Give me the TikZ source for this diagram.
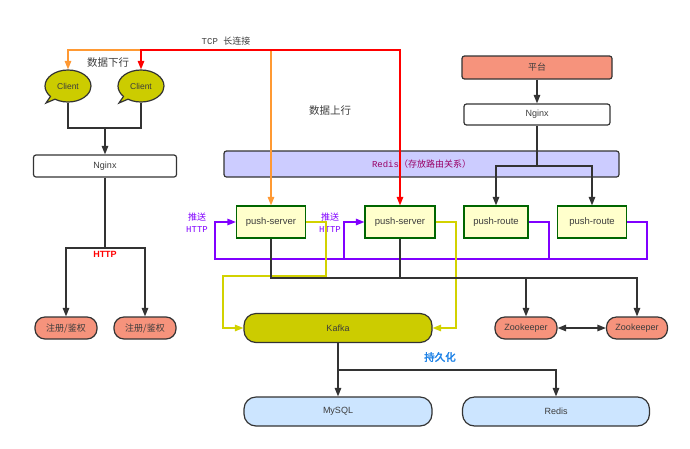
\documentclass[tikz,border=0pt]{standalone}
\usepackage{fontspec}
\setmainfont{Liberation Sans}
\setmonofont{Liberation Mono}
\newfontfamily\cjk{Noto Sans CJK SC}[AutoFakeBold=2.5]
\usepackage{xcolor}
\usetikzlibrary{arrows.meta,shapes.callouts}
\definecolor{linegray}{RGB}{51,51,51}
\definecolor{textgray}{RGB}{60,60,60}
\definecolor{clientfill}{RGB}{204,204,0}
\definecolor{salmon}{RGB}{246,147,124}
\definecolor{lavender}{RGB}{204,204,255}
\definecolor{lightyellow}{RGB}{255,255,204}
\definecolor{boxgreen}{RGB}{0,102,0}
\definecolor{lightblue}{RGB}{204,229,255}
\definecolor{pushpurple}{RGB}{128,0,255}
\definecolor{kafkayellow}{RGB}{210,210,0}
\definecolor{tcporange}{RGB}{255,153,51}
\definecolor{tcpred}{RGB}{255,0,0}
\definecolor{redistext}{RGB}{153,0,102}
\definecolor{persistblue}{RGB}{30,130,230}

\begin{document}
\begin{tikzpicture}[x=1pt,y=-1pt,
		box/.style={draw=linegray,line width=1.2pt,rounded corners=2.5pt,inner sep=0pt,
			text=textgray,font=\fontsize{9}{10}\selectfont},
		pill/.style={box,rounded corners=10pt},
		server/.style={box,draw=boxgreen,fill=lightyellow,rounded corners=0pt,
			minimum height=32pt,font=\fontsize{9.5}{11}\selectfont},
		client/.style={ellipse callout,draw=linegray,line width=1.2pt,fill=clientfill,
			minimum width=46pt,minimum height=32pt,inner sep=0pt,text=textgray,
			font=\fontsize{8.5}{10}\selectfont},
		wire/.style={draw=linegray,line width=1.2pt},
		tip/.style={-{Triangle[width=6.5pt,length=8.5pt]}},
		tips/.style={{Triangle[width=6.5pt,length=8.5pt]}-{Triangle[width=6.5pt,length=8.5pt]}},
		pushline/.style={draw=pushpurple,line width=1.3pt},
		kline/.style={draw=kafkayellow,line width=1.4pt}]
	\useasboundingbox (0,0) rectangle (690,448);
	\node[client,callout absolute pointer={(46,103)}] (client1) at (68,86) {Client};
	\node[client,callout absolute pointer={(119,103)}] (client2) at (141,86) {Client};
	\node[box,fill=white,minimum width=143pt,minimum height=22pt] (nginxL) at (105,166) {Nginx};
	\node[pill,fill=salmon,minimum width=62pt,minimum height=22pt,font=\cjk\fontsize{9}{10}\selectfont] (auth1) at (66,328) {注册/鉴权};
	\node[pill,fill=salmon,minimum width=62pt,minimum height=22pt,font=\cjk\fontsize{9}{10}\selectfont] (auth2) at (145,328) {注册/鉴权};
	\node[box,fill=salmon,minimum width=150pt,minimum height=23pt,font=\cjk\fontsize{9}{10}\selectfont] (pingtai) at (537,67.5) {平台};
	\node[box,fill=white,minimum width=146pt,minimum height=21pt] (nginxR) at (537,114.5) {Nginx};
	\node[box,fill=lavender,minimum width=395pt,minimum height=26pt,text=redistext,
		font=\fontsize{9}{10}\selectfont] (redisbar) at (421.5,164) {\ttfamily Redis\cjk（存放路由关系）};
	\node[server,minimum width=69pt] (ps1) at (271,222) {push-server};
	\node[server,minimum width=70pt] (ps2) at (400,222) {push-server};
	\node[server,minimum width=64pt] (pr1) at (496,222) {push-route};
	\node[server,minimum width=69pt] (pr2) at (592,222) {push-route};
	\node[pill,fill=clientfill,minimum width=188pt,minimum height=29pt,rounded corners=12pt] (kafka) at (338,328) {Kafka};
	\node[pill,fill=salmon,minimum width=62pt,minimum height=22pt] (zk1) at (526,328) {Zookeeper};
	\node[pill,fill=salmon,minimum width=61pt,minimum height=22pt] (zk2) at (637,328) {Zookeeper};
	\node[pill,fill=lightblue,minimum width=188pt,minimum height=29pt,rounded corners=12pt] (mysql) at (338,411.5) {MySQL};
	\node[pill,fill=lightblue,minimum width=187pt,minimum height=29pt,rounded corners=12pt] (redis) at (556,411.5) {Redis};

	\node[text=textgray,font=\fontsize{9}{10}\selectfont] (tcplabel) at (226,41) {\ttfamily TCP \cjk 长连接};
	\node[text=textgray,font=\cjk\fontsize{10.5}{12}\selectfont] (down) at (108,63) {数据下行};
	\node[text=textgray,font=\cjk\fontsize{10.5}{12}\selectfont] (up) at (330,111) {数据上行};
	\node[text=tcpred,font=\bfseries\fontsize{9}{10}\selectfont] (httplabel) at (105,254) {HTTP};
	\node[text=pushpurple,align=center,font=\fontsize{9}{12}\selectfont] (push1) at (197,223) {\cjk 推送\\\ttfamily HTTP};
	\node[text=pushpurple,align=center,font=\fontsize{9}{12}\selectfont] (push2) at (330,223) {\cjk 推送\\\ttfamily HTTP};
	\node[text=persistblue,font=\cjk\bfseries\fontsize{10.5}{12}\selectfont] (persist) at (440,357) {持久化};

	\coordinate (tcp) at (0,50);
	\coordinate (joinC) at (105,128);
	\coordinate (httpJ) at (0,248);
	\coordinate (routeJ) at (0,166);
	\coordinate (p2r) at (647,259);
	\coordinate (p1r) at (549,259);
	\coordinate (p0l) at (215,259);
	\coordinate (pml) at (344,259);
	\coordinate (y1) at (326,276);
	\coordinate (y2) at (223,276);
	\coordinate (y3) at (456,328);
	\coordinate (zj) at (0,278);
	\coordinate (kj) at (0,370);

	\draw[draw=tcporange,line width=1.3pt,tips,tcporange] (client1.north) -- (client1.north |- tcp) -| (ps1.north);
	\draw[draw=tcpred,line width=1.3pt,tips,tcpred] (client2.north) -- (client2.north |- tcp) -| (ps2.north);
	\draw[wire] (client1.south) |- (joinC) -| (client2.south);
	\draw[wire,tip] (joinC) -- (nginxL.north);
	\draw[wire,tip] (nginxL.south) -- (nginxL.south |- httpJ) -| (auth1.north);
	\draw[wire,tip] (nginxL.south |- httpJ) -| (auth2.north);
	\draw[wire,tip] (pingtai) -- (nginxR);
	\draw[wire,tip] (nginxR.south) -- (nginxR.south |- routeJ) -| (pr1.north);
	\draw[wire,tip] (nginxR.south |- routeJ) -| (pr2.north);
	\draw[pushline,tip,pushpurple] (pr2.east) -| (p2r) -- (p0l) |- (ps1.west);
	\draw[pushline] (pr1.east) -| (p1r);
	\draw[pushline,tip,pushpurple] (pml) |- (ps2.west);
	\draw[kline,tip,kafkayellow] (ps1.east) -| (y1) -- (y2) |- (kafka.west);
	\draw[kline,tip,kafkayellow] (ps2.east) -| (y3) -- (kafka.east);
	\draw[wire,tip] (ps1.south) |- (zk2.north |- zj) -- (zk2.north);
	\draw[wire] (ps2.south) -- (ps2.south |- zj);
	\draw[wire,tip] (zk1.north |- zj) -- (zk1.north);
	\draw[wire,tips] (zk1) -- (zk2);
	\draw[wire,tip] (kafka.south) -- (mysql.north);
	\draw[wire,tip] (kafka.south |- kj) -| (redis.north);
\end{tikzpicture}
\end{document}
